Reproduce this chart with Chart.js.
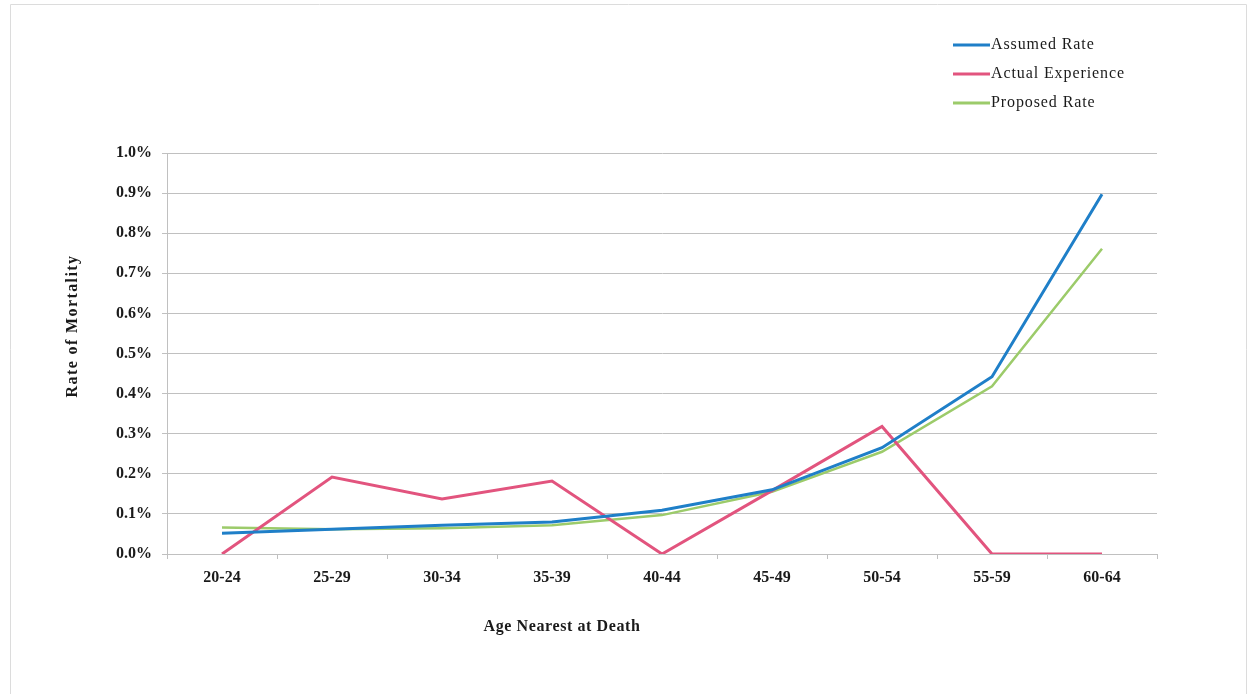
<!DOCTYPE html>
<html>
<head>
<meta charset="utf-8">
<script src="https://cdn.jsdelivr.net/npm/chart.js@4/dist/chart.umd.min.js"></script>
<style>
  html, body { margin: 0; padding: 0; background: #ffffff; }
  #wrap { width: 1248px; height: 694px; position: relative; }
</style>
</head>
<body>
<div id="wrap"><canvas id="mortality" width="1248" height="694"></canvas></div>
<script>
// Age bands (nearest age at death)
const ageBands = ['20-24', '25-29', '30-34', '35-39', '40-44', '45-49', '50-54', '55-59', '60-64'];

// Mortality rates, in percent
const assumedRate = [0.052, 0.062, 0.072, 0.080, 0.109, 0.160, 0.265, 0.442, 0.897];
const actualExperience = [0.000, 0.192, 0.137, 0.182, 0.000, 0.158, 0.318, 0.000, 0.000];
const proposedRate = [0.066, 0.062, 0.064, 0.072, 0.097, 0.155, 0.255, 0.418, 0.761];

// Y axis ticks, in percent
const yTicks = [0.0, 0.1, 0.2, 0.3, 0.4, 0.5, 0.6, 0.7, 0.8, 0.9, 1.0];

const seriesNames = ['Assumed Rate', 'Actual Experience', 'Proposed Rate'];
const seriesColors = ['#1f7fc8', '#e2547e', '#9ccb6a'];

const serif = '"Liberation Serif", "Times New Roman", serif';
const inkColor = '#1a1a1a';
const gridColor = '#c0c0c0';

// Page frame, axis titles and a stacked legend in the upper right
const decorations = {
  id: 'decorations',
  beforeDraw(chart) {
    const ctx = chart.ctx;
    ctx.save();
    ctx.strokeStyle = '#dcdcdc';
    ctx.lineWidth = 1;
    ctx.beginPath();
    ctx.moveTo(10.5, 694);
    ctx.lineTo(10.5, 4.5);
    ctx.lineTo(1246.5, 4.5);
    ctx.lineTo(1246.5, 694);
    ctx.stroke();
    ctx.restore();
  },
  afterDraw(chart) {
    const ctx = chart.ctx;
    ctx.save();
    ctx.fillStyle = inkColor;
    ctx.font = 'bold 16px ' + serif;
    ctx.letterSpacing = '0.6px';
    ctx.textAlign = 'center';
    ctx.textBaseline = 'middle';
    ctx.fillText('Age Nearest at Death', 562, 627);

    ctx.letterSpacing = '1.4px';
    ctx.translate(73, 326);
    ctx.rotate(-Math.PI / 2);
    ctx.fillText('Rate of Mortality', 0, 0);
    ctx.restore();

    // legend
    ctx.save();
    ctx.font = '16px ' + serif;
    ctx.letterSpacing = '0.9px';
    ctx.textAlign = 'left';
    ctx.textBaseline = 'middle';
    chart.data.datasets.forEach((ds, i) => {
      const y = 45 + i * 29;
      ctx.strokeStyle = ds.borderColor;
      ctx.lineWidth = 3;
      ctx.beginPath();
      ctx.moveTo(953, y);
      ctx.lineTo(990, y);
      ctx.stroke();
      ctx.fillStyle = inkColor;
      ctx.fillText(ds.label, 991, y);
    });
    ctx.restore();
  }
};

const makeSeries = (label, data, color, width) => ({
  label: label,
  data: data,
  borderColor: color,
  backgroundColor: color,
  borderWidth: width,
  pointRadius: 0,
  pointHoverRadius: 0,
  tension: 0,
  fill: false
});

new Chart(document.getElementById('mortality'), {
  type: 'line',
  data: {
    labels: ageBands,
    datasets: [
      makeSeries(seriesNames[0], assumedRate, seriesColors[0], 3),
      makeSeries(seriesNames[1], actualExperience, seriesColors[1], 3),
      makeSeries(seriesNames[2], proposedRate, seriesColors[2], 2.5)
    ]
  },
  options: {
    responsive: false,
    animation: false,
    layout: { padding: { left: 0, top: 153, right: 91, bottom: 0 } },
    plugins: {
      legend: { display: false },
      tooltip: { enabled: false },
      title: { display: false }
    },
    scales: {
      x: {
        type: 'category',
        offset: true,
        grid: {
          offset: true,
          drawOnChartArea: false,
          drawTicks: true,
          tickLength: 5,
          color: gridColor
        },
        border: { display: true, color: gridColor, width: 1 },
        ticks: {
          color: inkColor,
          padding: 9,
          maxRotation: 0,
          font: { family: serif, size: 16, weight: 'bold' }
        },
        afterFit(scale) { scale.height = 140; }
      },
      y: {
        min: 0,
        max: 1.0,
        afterBuildTicks(scale) { scale.ticks = yTicks.map(v => ({ value: v })); },
        grid: {
          color: gridColor,
          lineWidth: 1,
          drawTicks: true,
          tickLength: 5
        },
        border: { display: true, color: gridColor, width: 1 },
        ticks: {
          color: inkColor,
          padding: 10,
          font: { family: serif, size: 16, weight: 'bold' },
          callback: (v) => Number(v).toFixed(1) + '%'
        },
        afterFit(scale) { scale.width = 167; }
      }
    }
  },
  plugins: [decorations]
});
</script>
</body>
</html>
